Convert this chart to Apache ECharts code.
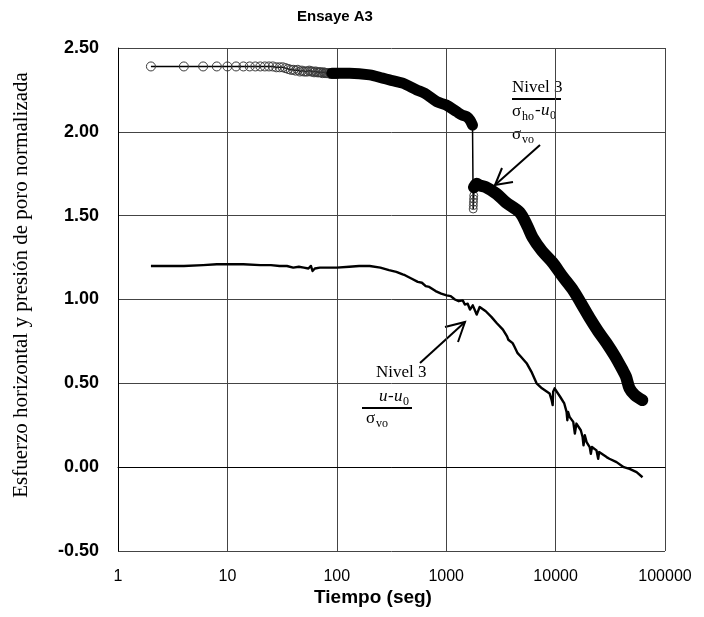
<!DOCTYPE html>
<html>
<head>
<meta charset="utf-8">
<script src="https://cdn.jsdelivr.net/npm/echarts@6/dist/echarts.min.js"></script>
<style>
html,body{margin:0;padding:0;background:#fff;}
#chart{width:704px;height:617px;}
</style>
</head>
<body>
<div id="chart"></div>
<script>
// ---- Data ----
const titleText = 'Ensaye A3';
const xAxisTitle = 'Tiempo (seg)';
const yAxisTitle = 'Esfuerzo horizontal y presión de poro normalizada';
const xTicks = [1, 10, 100, 1000, 10000, 100000];
const yTicks = [-0.5, 0, 0.5, 1.0, 1.5, 2.0, 2.5];

// Upper curve (sigma_ho - u0)/sigma_vo : early open-circle readings
const upperCircleTime = [2,4,6,8,10,12,14,16,18,20,22,24,26,28,30,32,34,36,38,40,42,44,46,48,50,52,54,56,58,60,62,64,66,68,70,72,74,76,78,80,82,84,86,88,90,92,94,96,98,100];
const upperCircleValue = [2.39,2.39,2.39,2.39,2.39,2.39,2.39,2.39,2.39,2.39,2.39,2.39,2.39,2.385,2.385,2.385,2.38,2.375,2.37,2.37,2.365,2.37,2.36,2.365,2.36,2.36,2.36,2.365,2.36,2.36,2.355,2.36,2.355,2.355,2.355,2.355,2.35,2.355,2.35,2.35,2.35,2.35,2.35,2.345,2.35,2.345,2.345,2.345,2.345,2.345];

// Upper curve dense band before the drop
const upperBand1Time = [90,100,131,200,263,303,400,538,636,819,1000,1247,1400,1538,1650,1740];
const upperBand1Value = [2.35,2.35,2.35,2.34,2.32,2.31,2.29,2.25,2.23,2.18,2.16,2.12,2.10,2.09,2.07,2.04];

// Upper curve drop
const upperDropTime = [1740,1765,1770,1775,1780,1785,1795];
const upperDropValue = [2.04,1.54,1.56,1.58,1.60,1.62,1.67];

// Upper curve dense band after the drop
const upperBand2Time = [1795,1900,2023,2300,2891,3500,4690,5500,6166,7500,9397,11500,14300,17000,20450,24500,29240,35000,40940,44000,47400,53000,62000];
const upperBand2Value = [1.67,1.69,1.68,1.67,1.63,1.58,1.52,1.44,1.37,1.29,1.22,1.14,1.06,0.98,0.89,0.81,0.74,0.66,0.58,0.54,0.47,0.43,0.40];

// Lower curve (u - u0)/sigma_vo
const lowerTime = [2,4,6,8,10,14,20,25,30,35,40,45,50,55,58,60,63,70,80,100,130,160,200,250,300,350,400,420,430,480,550,600,650,700,800,900,1010,1100,1200,1300,1416,1480,1530,1572,1650,1750,1900,1950,2023,2300,2600,2891,3300,3600,3700,4048,4200,4497,4800,5433,6000,6703,7500,8810,9200,9397,9500,9795,11000,12000,12600,12800,13000,13420,14500,15000,15500,17000,17650,18000,18500,19200,20500,21000,21500,23660,24500,25000,29240,31000,36070,42000,47420,55000,62300];
const lowerValue = [1.20,1.20,1.205,1.21,1.21,1.21,1.205,1.205,1.20,1.20,1.19,1.195,1.19,1.185,1.20,1.17,1.185,1.19,1.19,1.19,1.195,1.20,1.20,1.19,1.175,1.165,1.15,1.145,1.15,1.125,1.105,1.10,1.08,1.075,1.05,1.035,1.025,1.02,1.00,0.99,0.995,0.97,0.96,0.975,0.94,0.965,0.91,0.92,0.955,0.93,0.895,0.86,0.82,0.78,0.76,0.74,0.72,0.68,0.66,0.62,0.57,0.50,0.47,0.44,0.40,0.37,0.45,0.47,0.42,0.38,0.33,0.28,0.33,0.30,0.27,0.20,0.26,0.22,0.18,0.13,0.19,0.15,0.12,0.08,0.12,0.10,0.05,0.09,0.06,0.05,0.03,0.00,-0.01,-0.03,-0.06];

function pairs(xs, ys){ return xs.map((x,i)=>[x, ys[i]]); }

const chart = echarts.init(document.getElementById('chart'), null, {renderer:'canvas'});
const serif = '"Liberation Serif","Times New Roman",serif';
const sans = '"Liberation Sans",Arial,sans-serif';

const option = {
  animation: false,
  backgroundColor: '#fff',
  grid: {left: 118, right: 39, top: 48, bottom: 66, containLabel: false},
  xAxis: {
    type: 'log', logBase: 10, min: xTicks[0], max: xTicks[xTicks.length-1],
    axisLine: {show: true, lineStyle: {color: '#000', width: 1}},
    axisTick: {show: false},
    splitLine: {show: true, lineStyle: {color: '#444', width: 1}},
    axisLabel: {color: '#000', fontFamily: sans, fontSize: 16, margin: 18,
      formatter: v => String(Math.round(v))}
  },
  yAxis: {
    type: 'value', min: yTicks[0], max: yTicks[yTicks.length-1], interval: 0.5,
    axisLine: {show: true, lineStyle: {color: '#000', width: 1}},
    axisTick: {show: false},
    splitLine: {show: true, lineStyle: {color: '#444', width: 1}},
    axisLabel: {color: '#000', fontFamily: sans, fontSize: 18, fontWeight: 'bold', margin: 19,
      formatter: v => v.toFixed(2)}
  },
  series: [
    {
      type: 'line', data: pairs(upperCircleTime, upperCircleValue),
      symbol: 'circle', symbolSize: 9, showSymbol: true,
      lineStyle: {color: '#000', width: 1.5},
      itemStyle: {color: 'rgba(0,0,0,0)', borderColor: '#3a3a3a', borderWidth: 1},
      z: 3
    },
    {
      type: 'line', data: pairs(upperBand1Time, upperBand1Value),
      showSymbol: false, symbol: 'none', smooth: 0.3,
      lineStyle: {color: '#000', width: 11, cap: 'round', join: 'round'},
      z: 4
    },
    {
      type: 'line', data: pairs(upperDropTime, upperDropValue),
      symbol: 'circle', symbolSize: 8, showSymbol: true,
      lineStyle: {color: '#000', width: 1.5},
      itemStyle: {color: 'rgba(0,0,0,0)', borderColor: '#444', borderWidth: 1},
      z: 3
    },
    {
      type: 'line', data: pairs(upperBand2Time, upperBand2Value),
      showSymbol: false, symbol: 'none', smooth: 0.3,
      lineStyle: {color: '#000', width: 12, cap: 'round', join: 'round'},
      z: 4
    },
    {
      type: 'line', data: pairs(lowerTime, lowerValue),
      showSymbol: false, symbol: 'none',
      lineStyle: {color: '#000', width: 2.4, join: 'round'},
      z: 4
    }
  ],
  graphic: [
    {type: 'text', x: 0, y: 0, style: {text: titleText, x: 335, y: 17, align: 'center', verticalAlign: 'middle', font: 'bold 15px ' + sans, fill: '#000'}},
    {type: 'text', x: 0, y: 0, style: {text: xAxisTitle, x: 373, y: 598, align: 'center', verticalAlign: 'middle', font: 'bold 19px ' + sans, fill: '#000'}},
    {type: 'text', x: 21, y: 285, rotation: Math.PI/2, style: {text: yAxisTitle, x: 0, y: 0, align: 'center', verticalAlign: 'middle', font: '21px ' + serif, fill: '#000'}},
    // upper annotation
    {type: 'text', x: 0, y: 0, style: {text: 'Nivel 3', x: 512, y: 88, verticalAlign: 'middle', font: '17px ' + serif, fill: '#000'}},
    {type: 'line', shape: {x1: 512, y1: 99, x2: 561, y2: 99}, style: {stroke: '#000', lineWidth: 2}},
    {type: 'text', x: 0, y: 0, style: {text: 'σ', x: 512, y: 112, verticalAlign: 'middle', font: '17px ' + serif, fill: '#000'}},
    {type: 'text', x: 0, y: 0, style: {text: 'ho', x: 522, y: 117, verticalAlign: 'middle', font: '12px ' + serif, fill: '#000'}},
    {type: 'text', x: 0, y: 0, style: {text: '-', x: 535, y: 111, verticalAlign: 'middle', font: '17px ' + serif, fill: '#000'}},
    {type: 'text', x: 0, y: 0, style: {text: 'u', x: 541, y: 111, verticalAlign: 'middle', font: 'italic 17px ' + serif, fill: '#000'}},
    {type: 'text', x: 0, y: 0, style: {text: '0', x: 550, y: 116, verticalAlign: 'middle', font: '12px ' + serif, fill: '#000'}},
    {type: 'text', x: 0, y: 0, style: {text: 'σ', x: 512, y: 135, verticalAlign: 'middle', font: '17px ' + serif, fill: '#000'}},
    {type: 'text', x: 0, y: 0, style: {text: 'vo', x: 522, y: 140, verticalAlign: 'middle', font: '12px ' + serif, fill: '#000'}},
    {type: 'polyline', shape: {points: [[540,145],[495,185]]}, style: {stroke: '#000', lineWidth: 2, fill: null}},
    {type: 'polyline', shape: {points: [[502,168],[495,185],[513,182]]}, style: {stroke: '#000', lineWidth: 2, fill: null}},
    // lower annotation
    {type: 'text', x: 0, y: 0, style: {text: 'Nivel 3', x: 376, y: 373, verticalAlign: 'middle', font: '17px ' + serif, fill: '#000'}},
    {type: 'text', x: 0, y: 0, style: {text: 'u', x: 379, y: 397, verticalAlign: 'middle', font: 'italic 17px ' + serif, fill: '#000'}},
    {type: 'text', x: 0, y: 0, style: {text: '-', x: 388, y: 397, verticalAlign: 'middle', font: '17px ' + serif, fill: '#000'}},
    {type: 'text', x: 0, y: 0, style: {text: 'u', x: 394, y: 397, verticalAlign: 'middle', font: 'italic 17px ' + serif, fill: '#000'}},
    {type: 'text', x: 0, y: 0, style: {text: '0', x: 403, y: 402, verticalAlign: 'middle', font: '12px ' + serif, fill: '#000'}},
    {type: 'line', shape: {x1: 362, y1: 408, x2: 412, y2: 408}, style: {stroke: '#000', lineWidth: 2}},
    {type: 'text', x: 0, y: 0, style: {text: 'σ', x: 366, y: 419, verticalAlign: 'middle', font: '17px ' + serif, fill: '#000'}},
    {type: 'text', x: 0, y: 0, style: {text: 'vo', x: 376, y: 424, verticalAlign: 'middle', font: '12px ' + serif, fill: '#000'}},
    {type: 'polyline', shape: {points: [[420,363],[465,322]]}, style: {stroke: '#000', lineWidth: 2, fill: null}},
    {type: 'polyline', shape: {points: [[445,327],[465,322],[458,342]]}, style: {stroke: '#000', lineWidth: 2, fill: null}}
  ]
};
chart.setOption(option);
</script>
</body>
</html>
